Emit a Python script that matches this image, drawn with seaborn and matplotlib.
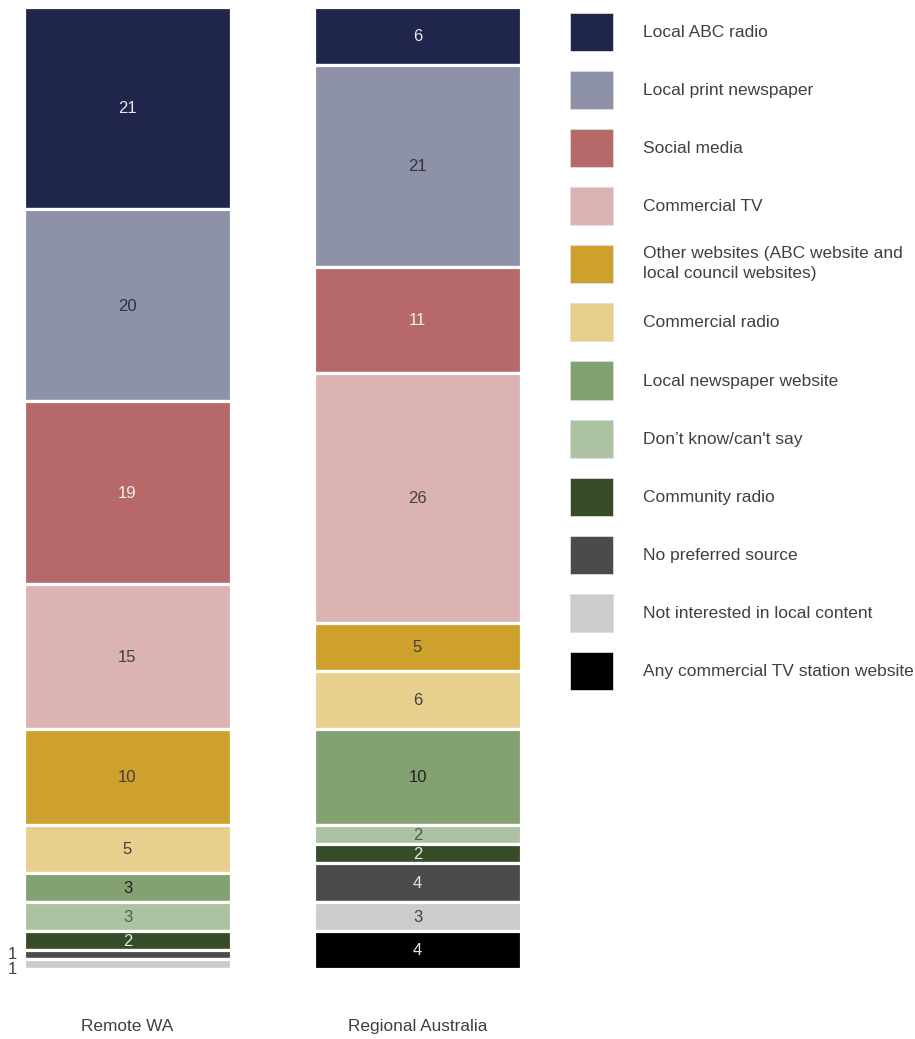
import matplotlib
matplotlib.use("Agg")
import matplotlib.pyplot as plt
import seaborn as sns
import numpy as np
import pandas as pd
from matplotlib.patches import Patch

sns.set_theme(style="white")
plt.rcParams["font.family"] = ["Liberation Sans", "DejaVu Sans"]

groups = ["Remote WA", "Regional Australia"]
sources = [
    "Local ABC radio",
    "Local print newspaper",
    "Social media",
    "Commercial TV",
    "Other websites (ABC website and\nlocal council websites)",
    "Commercial radio",
    "Local newspaper website",
    "Don\u2019t know/can't say",
    "Community radio",
    "No preferred source",
    "Not interested in local content",
    "Any commercial TV station website",
]
remote_wa = [21, 20, 19, 15, 10, 5, 3, 3, 2, 1, 1, 0]
regional_au = [6, 21, 11, 26, 5, 6, 10, 2, 2, 4, 3, 4]

colors = [
    "#20264b", "#8e92a8", "#b66968", "#dbb3b3", "#cea12c", "#e7cf8d",
    "#84a172", "#abc3a0", "#364b28", "#4b4b4b", "#cccccc", "#000000",
]
label_colors = [
    "#e8e8e8", "#333333", "#f0f0f0", "#404040", "#404040", "#404040",
    "#222222", "#555555", "#e8e8e8", "#e8e8e8", "#404040", "#e8e8e8",
]

values = np.array([remote_wa, regional_au], dtype=float)  # groups x sources
bottoms = np.cumsum(values, axis=1) - values

W, H = 915, 1039
fig = plt.figure(figsize=(W / 100, H / 100), dpi=100)
ax_w = 550
ax = fig.add_axes([0, (H - 969) / H, ax_w / W, 962 / H])

bar_width = 0.717
for j, src in enumerate(sources):
    df = pd.DataFrame({"group": groups, "value": values[:, j]})
    sns.barplot(
        data=df, x="group", y="value", order=groups, ax=ax,
        color=colors[j], width=bar_width, bottom=bottoms[:, j],
        edgecolor="white", linewidth=2.3, saturation=1,
    )

# value labels
for i in range(len(groups)):
    small_count = 0
    for j in range(len(sources)):
        v = values[i, j]
        if v <= 0:
            continue
        yc = bottoms[i, j] + v / 2
        if v < 2:
            ax.text(i - bar_width / 2 - 0.04, yc + 0.6 * small_count, f"{int(v)}",
                    ha="center", va="center", fontsize=12, color="#404040")
            small_count += 1
        else:
            ax.text(i, yc + 0.1, f"{int(v)}", ha="center", va="center",
                    fontsize=12, color=label_colors[j])

ax.set_xlim(-127.5 / 290, (ax_w - 127.5) / 290)
ax.set_ylim(100, 0)
ax.set_xlabel("")
ax.set_ylabel("")
ax.set_yticks([])
ax.tick_params(axis="x", length=0, pad=36, labelsize=12.4, labelcolor="#404040")
sns.despine(ax=ax, left=True, bottom=True)

handles = [Patch(facecolor=c, edgecolor="#dddddd", linewidth=0.6) for c in colors]
leg = fig.legend(
    handles, sources, loc="upper left",
    bbox_to_anchor=(570 / W, 1 - 13 / H), frameon=False,
    fontsize=12.5, labelcolor="#404040",
    handlelength=2.47, handleheight=3.0, handletextpad=1.72,
    labelspacing=1.15, borderpad=0, borderaxespad=0,
)
for t in leg.get_texts():
    t.set_linespacing(1.45)

fig.savefig("out.png", dpi=100, facecolor="white")
